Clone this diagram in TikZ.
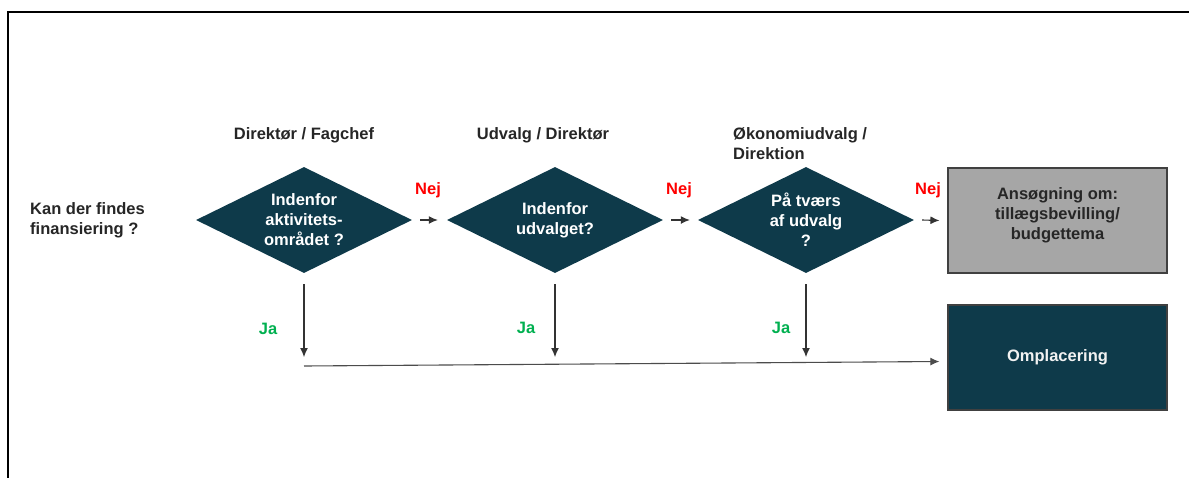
\documentclass[tikz,border=0pt]{standalone}
\usepackage{fontspec}
\setmainfont{Liberation Sans}
\usetikzlibrary{shapes.geometric,arrows.meta,calc}
\definecolor{teal}{RGB}{14,58,74}
\definecolor{boxgray}{RGB}{166,166,166}
\definecolor{nejred}{RGB}{255,0,0}
\definecolor{jagreen}{RGB}{0,176,80}
\definecolor{txt}{RGB}{38,38,38}
\tikzset{
  x=1pt,y=-1pt,
  every node/.style={font=\bfseries\fontsize{16.5}{20}\selectfont, inner sep=0pt, align=center},
  dia/.style={diamond, fill=teal, draw=none, minimum width=216pt, minimum height=106pt, aspect=2.04, text=white},
  gbox/.style={rectangle, fill=boxgray, draw=black!75, line width=1.2pt, minimum width=219pt, minimum height=105pt},
  tbox/.style={rectangle, fill=teal, draw=black!75, line width=1.2pt, minimum width=219pt, minimum height=105pt, text=white!95!black},
  lbl/.style={text=txt},
  nej/.style={text=nejred},
  ja/.style={text=jagreen},
  arr/.style={draw=black!80, line width=1.1pt, -{Latex[length=9pt,width=8pt]}},
}
\begin{document}
\begin{tikzpicture}
\useasboundingbox (0,0) rectangle (1189,477);
\fill[white] (0,0) rectangle (1189,477);
\draw[black, line width=2pt] (1195,12) -- (8,12) -- (8,490);

% left question
\node[lbl, align=left, anchor=west] (q) at (30,220) {Kan der findes\\finansiering ?};

% headers
\node[lbl] (h1) at (304,135) {Direktør / Fagchef};
\node[lbl] (h2) at (543,135) {Udvalg / Direktør};
\node[lbl, align=left, anchor=west] (h3) at (733,144) {Økonomiudvalg /\\Direktion};

% diamonds
\node[dia] (d1) at (304,220) {Indenfor\\aktivitets-\\området ?};
\node[dia] (d2) at (555,220) {Indenfor\\udvalget?};
\node[dia] (d3) at (806,220) {På tværs\\af udvalg\\?};

% boxes
\node[gbox] (b1) at (1057.5,220.5) {};
\node[lbl] (b1t) at ([yshift=5pt]b1.center) {Ansøgning om:\\tillægsbevilling/\\budgettema};
\node[tbox] (b2) at (1057.5,357.5) {Omplacering};

% Nej arrows
\draw[arr] ([xshift=8pt]d1.east) -- ([xshift=-9pt]d2.west);
\draw[arr] ([xshift=8pt]d2.east) -- ([xshift=-8pt]d3.west);
\draw[arr] ([xshift=8pt]d3.east) -- ([xshift=-8pt]b1.west);
\node[nej] (n1) at (428,190) {Nej};
\node[nej] (n2) at (679,190) {Nej};
\node[nej] (n3) at (928,190) {Nej};

% Ja arrows
\coordinate (jy) at (0,357);
\coordinate (j1) at (d1.south |- jy);
\coordinate (j2) at (d2.south |- jy);
\coordinate (j3) at (d3.south |- jy);
\draw[arr] ([yshift=-11pt]d1.south) -- (j1);
\draw[arr] ([yshift=-11pt]d2.south) -- (j2);
\draw[arr] ([yshift=-11pt]d3.south) -- (j3);
\node[ja] (ja1) at (268,329) {Ja};
\node[ja] (ja2) at (526,328) {Ja};
\node[ja] (ja3) at (781,328) {Ja};

% collector line
\coordinate (hs) at (304,366);
\coordinate (he) at ([xshift=-8pt,yshift=-4pt]b2.west);
\draw[arr, draw=black!70] (hs) -- (he);
\end{tikzpicture}
\end{document}
